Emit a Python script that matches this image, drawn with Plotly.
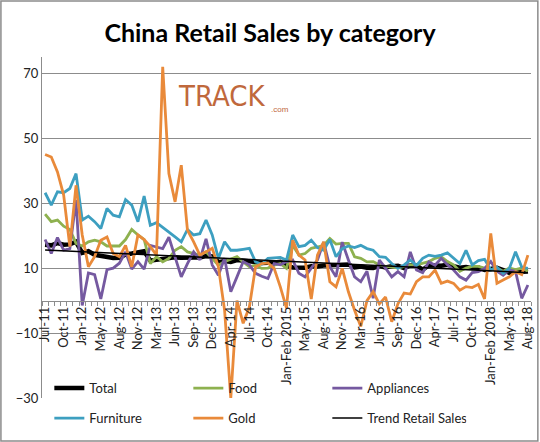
import plotly.graph_objects as go

# categories: monthly, Jan and Feb are reported together
months = [
    "Jul-11", "Aug-11", "Sep-11", "Oct-11", "Nov-11", "Dec-11",
    "Jan-12", "Mar-12", "Apr-12", "May-12", "Jun-12", "Jul-12", "Aug-12", "Sep-12", "Oct-12", "Nov-12", "Dec-12",
    "Jan-Feb 2013", "Mar-13", "Apr-13", "May-13", "Jun-13", "Jul-13", "Aug-13", "Sep-13", "Oct-13", "Nov-13", "Dec-13",
    "Jan-Feb 2014", "Mar-14", "Apr-14", "May-14", "Jun-14", "Jul-14", "Aug-14", "Sep-14", "Oct-14", "Nov-14", "Dec-14",
    "Jan-Feb 2015", "Mar-15", "Apr-15", "May-15", "Jun-15", "Jul-15", "Aug-15", "Sep-15", "Oct-15", "Nov-15", "Dec-15",
    "Jan-Feb 2016", "Mar-16", "Apr-16", "May-16", "Jun-16", "Jul-16", "Aug-16", "Sep-16", "Oct-16", "Nov-16", "Dec-16",
    "Jan-Feb 2017", "Mar-17", "Apr-17", "May-17", "Jun-17", "Jul-17", "Aug-17", "Sep-17", "Oct-17", "Nov-17", "Dec-17",
    "Jan-Feb 2018", "Mar-18", "Apr-18", "May-18", "Jun-18", "Jul-18", "Aug-18",
]

total = [
    17.2, 17.0, 17.7, 17.2, 17.3, 18.1,
    14.7, 15.2, 14.1, 13.8, 13.7, 13.1, 13.2, 14.2, 14.5, 14.9, 15.2,
    12.3, 12.6, 12.8, 12.9, 13.3, 13.2, 13.4, 13.3, 13.3, 13.7, 13.6,
    11.8, 12.2, 11.9, 12.5, 12.4, 12.2, 11.9, 11.6, 11.5, 11.7, 11.9,
    10.7, 10.2, 10.0, 10.1, 10.6, 10.5, 10.8, 10.9, 11.0, 11.2, 11.1,
    10.2, 10.5, 10.1, 10.0, 10.6, 10.2, 10.6, 10.7, 10.0, 10.8, 10.9,
    9.5, 10.9, 10.7, 10.7, 11.0, 10.4, 10.1, 10.3, 10.0, 10.2, 9.4,
    9.7, 10.1, 9.4, 8.5, 9.0, 8.8, 9.0,
]

food = [
    26.6, 24.3, 24.8, 22.9, 21.9, 17.6,
    16.8, 18.1, 18.6, 18.1, 16.8, 16.8, 16.8, 18.8, 21.9, 20.2, 18.8,
    11.4, 13.5, 11.9, 13.0, 15.5, 16.6, 15.0, 14.5, 14.0, 15.0, 13.0,
    10.9, 12.0, 12.7, 13.5, 11.9, 10.4, 10.9, 9.9, 10.0, 10.9, 11.4,
    9.9, 17.0, 14.0, 14.5, 16.1, 16.5, 17.0, 19.1, 17.4, 17.6, 17.6,
    13.5, 13.0, 11.9, 12.0, 11.0, 10.5, 10.4, 10.0, 10.5, 11.0, 11.0,
    11.5, 12.0, 13.0, 13.5, 12.0, 11.0, 9.0, 10.0, 10.5, 10.5, 10.0,
    9.5, 10.0, 9.0, 10.0, 9.5, 10.0, 9.0,
]

appliances = [
    18.8, 14.5, 19.4, 15.5, 16.0, 31.0,
    -1.5, 8.5, 8.0, 0.5, 9.5, 10.0, 11.5, 15.0, 9.7, 12.0, 9.7,
    17.0, 16.5, 16.0, 19.5, 13.0, 7.3, 11.4, 15.0, 12.5, 19.0, 11.0,
    7.8, 13.0, 2.7, 7.3, 12.0, 11.0, 8.4, 7.5, 6.8, 11.4, 11.0,
    12.0, 12.5, 8.4, 7.3, 10.0, 12.5, 18.0, 10.4, 7.3, 18.0, 12.5,
    7.3, 5.8, 9.0, 0.7, 12.5, 10.0, 7.3, 8.9, 7.3, 15.0, 9.4,
    8.6, 11.9, 10.9, 13.0, 11.0, 9.4, 7.3, 6.3, 8.6, 8.9, 9.9,
    12.0, 9.0, 7.8, 9.4, 9.0, 0.7, 4.8,
]

furniture = [
    33.2, 29.4, 33.5, 33.2, 34.5, 39.1,
    24.8, 26.0, 24.3, 22.2, 28.4, 26.3, 25.8, 31.1, 29.4, 24.3, 32.2,
    23.2, 24.0, 22.6, 21.2, 19.6, 18.1, 21.9, 20.2, 20.6, 24.8, 20.2,
    13.0, 18.1, 15.5, 15.5, 15.8, 16.1, 11.9, 11.2, 13.0, 13.2, 13.3,
    12.5, 20.2, 16.6, 17.0, 18.6, 16.3, 15.5, 18.8, 13.5, 16.0, 16.8,
    16.3, 17.0, 16.0, 15.5, 13.5, 13.3, 11.4, 9.9, 11.0, 12.5, 10.8,
    13.0, 14.0, 13.6, 14.0, 14.7, 13.0, 11.4, 15.5, 11.0, 12.3, 12.7,
    9.4, 10.3, 8.4, 9.9, 15.0, 10.3, 9.9,
]

gold = [
    45.0, 44.2, 39.6, 32.5, 16.6, 35.5,
    20.2, 10.4, 13.5, 18.6, 19.6, 14.5, 13.5, 17.0, 10.4, 20.2, 18.8,
    16.6, 14.0, 72.0, 39.1, 30.4, 41.7, 21.7, 18.1, 14.0, 15.0, 16.1,
    10.4, -3.0, -30.0, 0.0, -7.0, -2.0, 10.4, 11.4, 11.6, 9.9, 4.2,
    -2.3, 18.6, 14.0, 12.5, 0.5, 14.0, 18.1, 5.8, 4.2, 9.9, 2.7,
    -3.0, -8.0, 0.0, 2.7, -1.0, 1.1, -6.5, -1.0, 2.3, 2.0, 5.8,
    7.3, 7.3, 9.4, 5.3, 6.0, 5.3, 3.2, 4.3, 4.0, 5.0, 0.5,
    20.7, 5.3, 6.3, 7.3, 8.9, 8.0, 14.0,
]

# trend line of total retail sales, start and end values
trend = [15.6, 8.6]

y_ticks = [-30, -10, 10, 30, 50, 70]

x_pos = list(range(len(months)))
tick_pos = x_pos[::3]
tick_text = months[::3]

FONT = "Lato"
GRID = "#8c8c8c"
LOGO = "#c0683c"

fig = go.Figure()

series = [
    ("Total", total, "black", 4.5, "legend"),
    ("Food", food, "#8eb14f", 2.8, "legend"),
    ("Appliances", appliances, "#7559a0", 2.8, "legend"),
    ("Furniture", furniture, "#3d9fc0", 2.8, "legend2"),
    ("Gold", gold, "#e98a3a", 2.8, "legend2"),
]
for name, vals, color, width, leg in series:
    fig.add_trace(go.Scatter(x=x_pos, y=vals, mode="lines", name=name,
                             line=dict(color=color, width=width), legend=leg))

fig.add_trace(go.Scatter(x=[x_pos[0], x_pos[-1]], y=trend, mode="lines",
                         name="Trend Retail Sales", line=dict(color="black", width=1.5),
                         legend="legend2"))

legend_style = dict(orientation="h", xanchor="left", yanchor="middle", x=0.015,
                    bgcolor="rgba(0,0,0,0)", entrywidth=94, entrywidthmode="pixels",
                    font=dict(family=FONT, size=13, color="#222"))

fig.update_layout(
    width=540, height=442,
    margin=dict(l=42, r=9, t=57, b=44, autoexpand=False),
    paper_bgcolor="white", plot_bgcolor="white",
    title=dict(text="<b>China Retail Sales by category</b>", x=0.5, xref="container",
               y=0.925, yref="container", xanchor="center", yanchor="middle",
               font=dict(family=FONT, size=25, color="black")),
    showlegend=True,
    legend=dict(y=0.029, **legend_style),
    legend2=dict(y=-0.059, **legend_style),
    xaxis=dict(range=[-0.5, 78.5], tickmode="array", tickvals=tick_pos, ticktext=tick_text,
               tickangle=-90, ticks="", showgrid=False, zeroline=False,
               showline=True, linecolor=GRID, linewidth=1,
               anchor="free", position=30 / 105,
               tickfont=dict(family=FONT, size=13, color="#222"),
               minor=dict(tickmode="linear", tick0=-0.5, dtick=1, ticks="outside",
                          ticklen=4, tickcolor=GRID, showgrid=False)),
    yaxis=dict(range=[-30, 75], tickmode="array", tickvals=y_ticks,
               showgrid=True, gridcolor=GRID, gridwidth=1, zeroline=False,
               showline=True, linecolor=GRID, linewidth=1, ticks="",
               tickfont=dict(family=FONT, size=13, color="#222")),
    shapes=[
        # white patch behind the logo
        dict(type="rect", xref="paper", yref="paper", x0=0.278, x1=0.497, y0=0.751, y1=0.944,
             fillcolor="white", line=dict(width=0), layer="between"),
        # outer chart border
        dict(type="rect", xref="paper", yref="paper", x0=-0.084, x1=1.014, y0=-0.126, y1=1.164,
             line=dict(color=GRID, width=1.5)),
    ],
    annotations=[
        dict(text="TRACK", xref="paper", yref="paper", x=0.368, y=0.942, showarrow=False,
             font=dict(family="DejaVu Sans Condensed, Liberation Sans", size=29, color=LOGO)),
        dict(text=".com", xref="paper", yref="paper", x=0.464, y=0.866, xanchor="left",
             showarrow=False, font=dict(family="Liberation Sans", size=8, color=LOGO)),
    ],
)

# drop the page's default body margin so the chart sits at the window corner
fig.write_html("out.html", config={"displayModeBar": False},
               post_script="document.body.style.margin='0';")
